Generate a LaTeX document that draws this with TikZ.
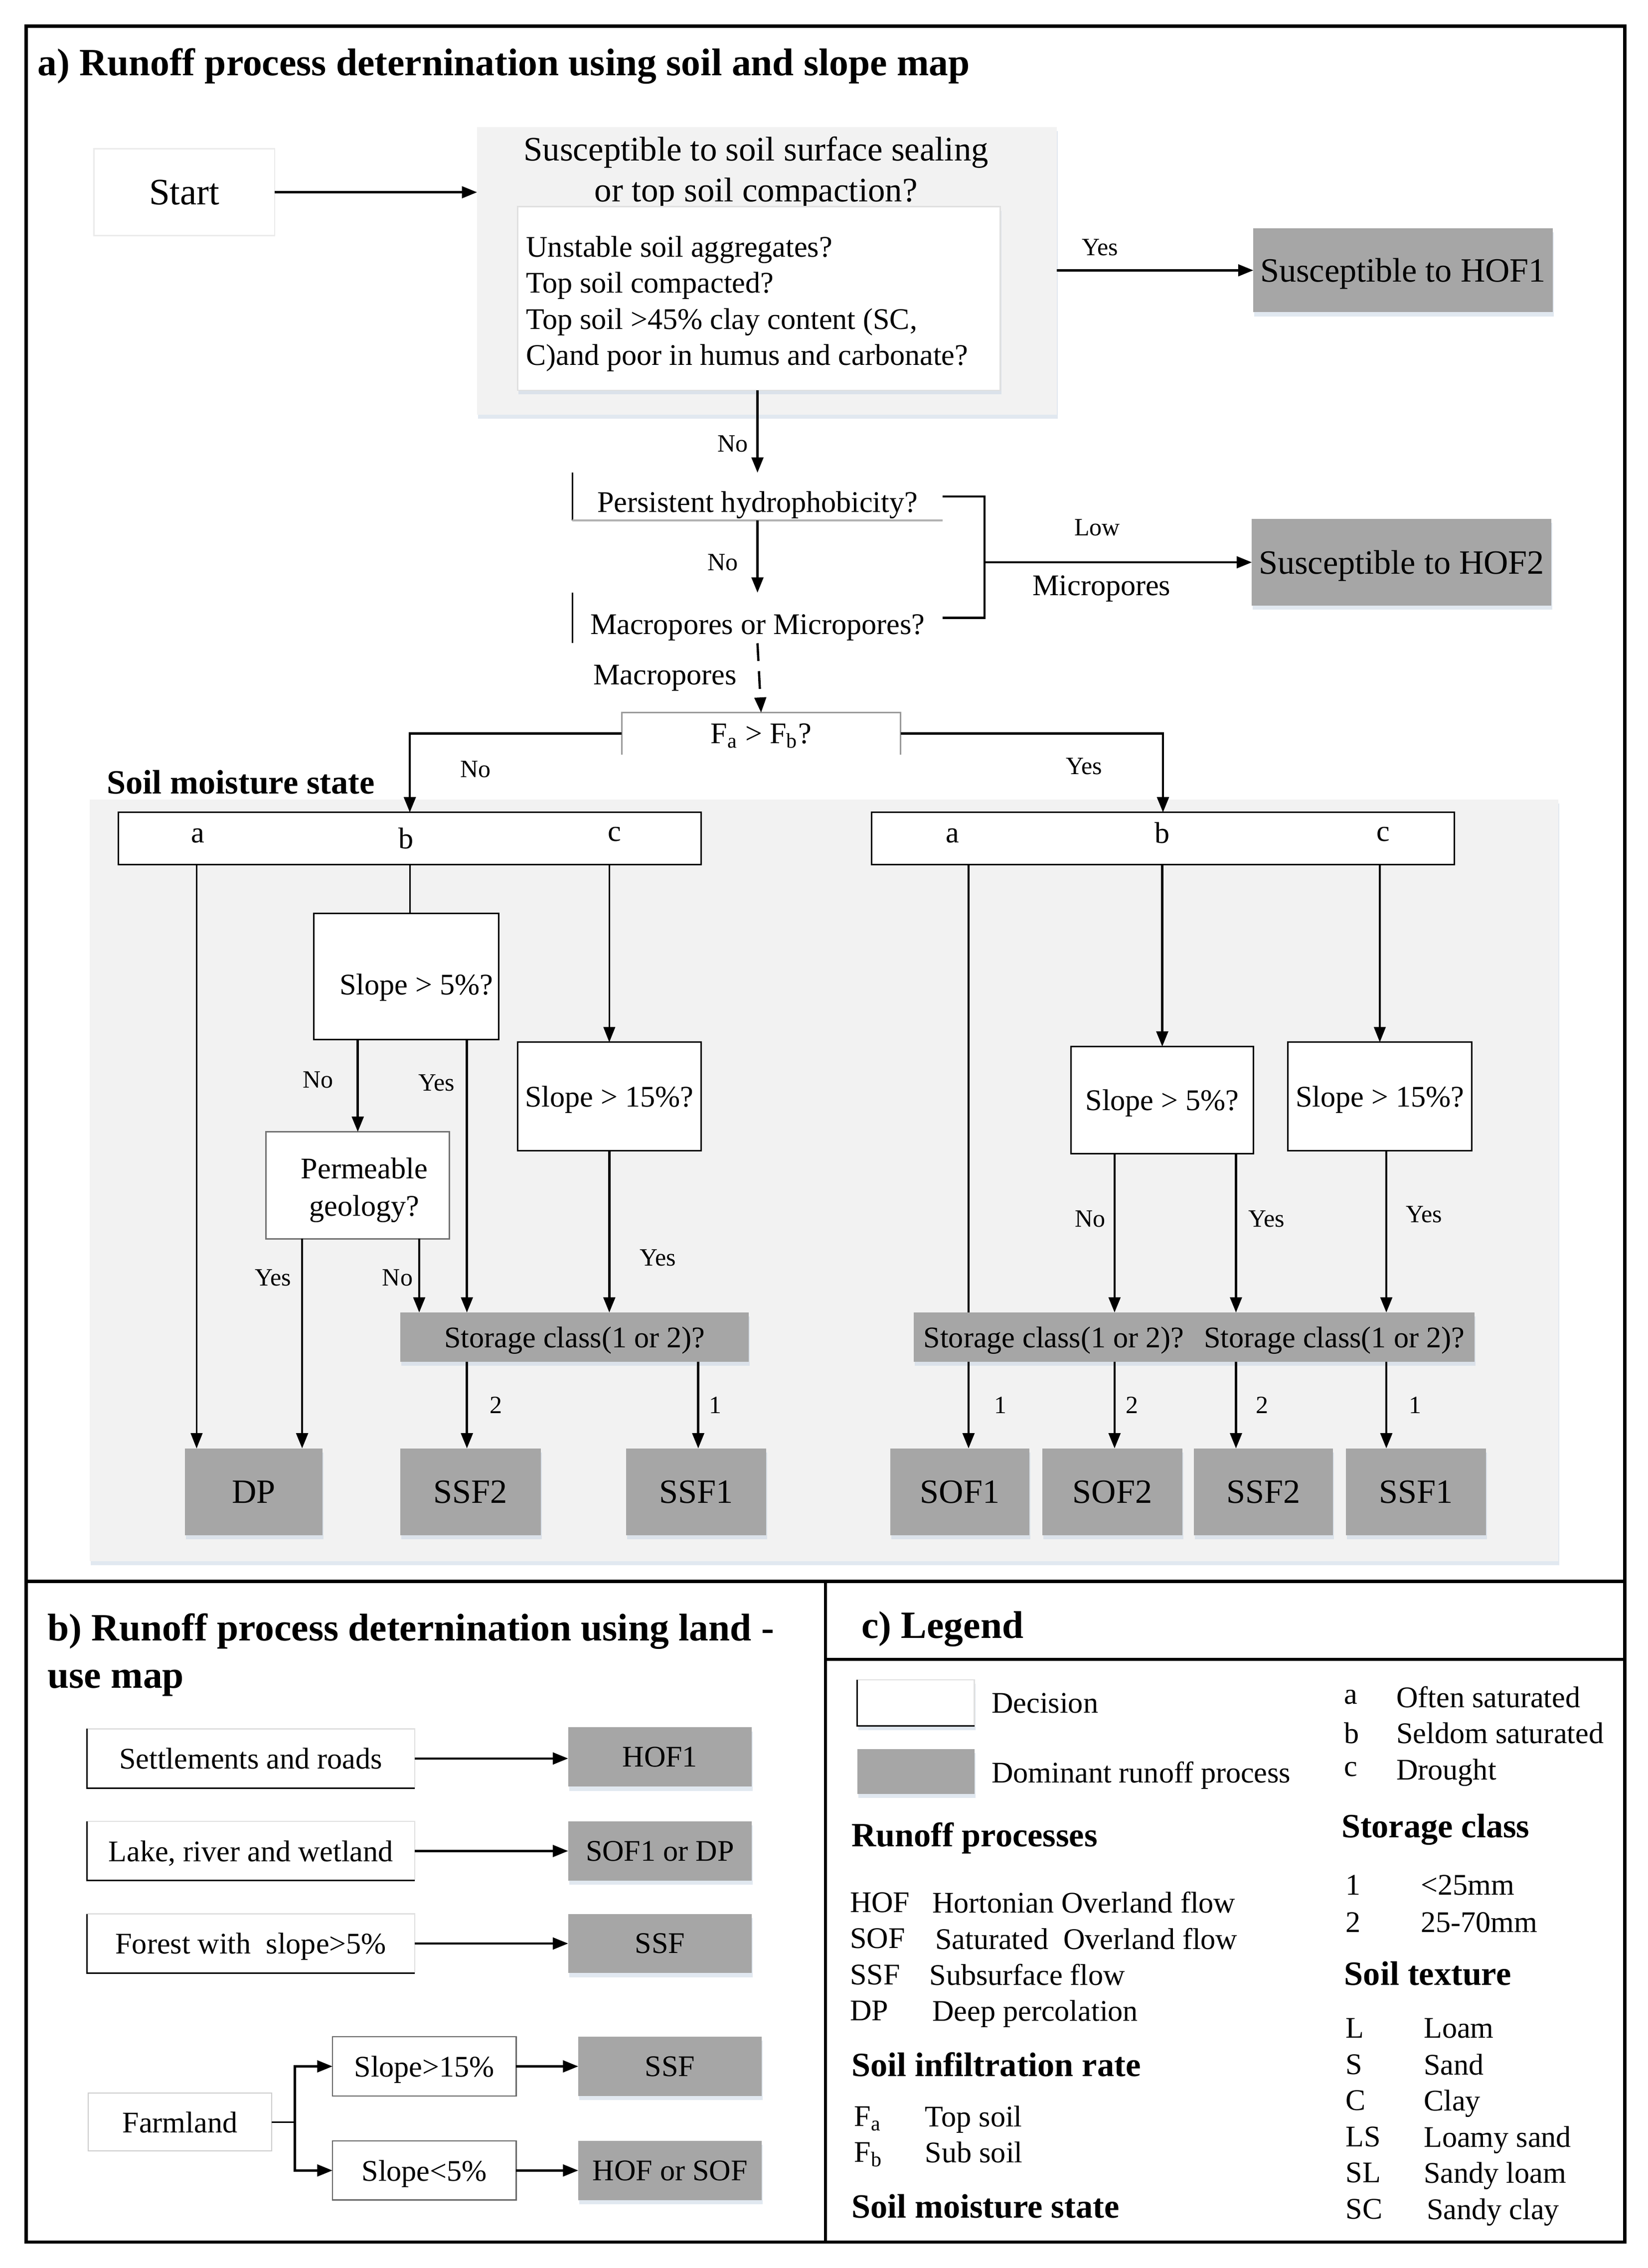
\documentclass[tikz,border=0pt]{standalone}
\usepackage{fontspec}
\setmainfont{Liberation Serif}
\usetikzlibrary{arrows.meta,shadows,calc}
\definecolor{procgray}{HTML}{A6A6A6}
\definecolor{bggray}{HTML}{F2F2F2}
\definecolor{shadowc}{HTML}{C5D3E3}
\newcommand{\fsz}[2]{\fontsize{#1}{#2}\selectfont}
\newcommand{\lbframe}[1]{\draw[line width=0.6pt] (#1.north west) -- (#1.south west) -- (#1.south east);}
\tikzset{
  txt/.style={font=\fsz{11.8}{14.2}, text depth=0pt},
  lbl/.style={font=\fsz{9.8}{11}, text depth=0pt},
  head/.style={font=\fsz{15.2}{18.7}\bfseries, text depth=0pt},
  sub/.style={font=\fsz{13.4}{16}\bfseries, text depth=0pt},
  big/.style={font=\fsz{13.4}{16}, text depth=0pt},
  shd/.style={drop shadow={shadow xshift=0.4pt, shadow yshift=-1.6pt, opacity=0.5, fill=shadowc}},
  gbox/.style={fill=procgray, shd},
  wbox/.style={fill=white, draw=black, line width=0.6pt},
  pbox/.style={fill=white, draw=black!12, line width=0.5pt},
  arr/.style={-{Triangle[length=6pt,width=4.6pt]}, line width=0.9pt},
  ln/.style={line width=0.9pt},
  thn/.style={line width=0.6pt},
  thnarr/.style={-{Triangle[length=6pt,width=4.6pt]}, line width=0.6pt},
  frame/.style={line width=1.3pt},
}
\begin{document}
\begin{tikzpicture}[x=0.02cm, y=-0.02cm, every node/.style={inner sep=0pt, outer sep=0pt}]
\fill[white] (0,0) rectangle (1140,1569);
\useasboundingbox (0,0) rectangle (1140,1569);

% ---------- frame ----------
\draw[frame] (18,18) rectangle (1124,1551);
\draw[frame] (18,1094) -- (1124,1094);
\draw[frame] (571,1094) -- (571,1551);
\draw[frame] (571,1148) -- (1124,1148);

% ---------- panel a ----------
\node[head, anchor=west] (titA) at (26,43) {a) Runoff process deternination using soil and slope map};

\node[pbox, draw=black!8, minimum width=2.5cm, minimum height=1.2cm, font=\fsz{14.7}{16}, text depth=0pt] (start) at (127.5,133) {Start};
\node[fill=bggray, shd, minimum width=8.02cm, minimum height=3.98cm] (susc) at (530.5,187.5) {};
\node[align=center, font=\fsz{13.5}{16.2}, text depth=0pt] (suscT) at (523,117) {Susceptible to soil surface sealing\\or top soil compaction?};
\node[pbox, shd, minimum width=6.68cm, minimum height=2.54cm] (inner) at (525,206.5) {};
\node[txt, anchor=west, align=left] (innerT) at (364,208) {Unstable soil aggregates?\\Top soil compacted?\\Top soil >45\% clay content (SC,\\C)and poor in humus and carbonate?};
\node[gbox, big, minimum width=4.14cm, minimum height=1.16cm] (hof1) at (970.5,187) {Susceptible to HOF1};

\node[fill=white, minimum width=5.12cm, minimum height=0.66cm] (pers) at (524,343.5) {};
\node[txt] (persT) at (524,347) {Persistent hydrophobicity?};
\draw[thn] (pers.north west) -- (pers.south west);
\draw[thn, black!30] (pers.south west) -- (pers.south east);
\node[fill=white, minimum width=5.12cm, minimum height=0.7cm] (macro) at (524,427.5) {};
\node[txt] (macroT) at (524,432) {Macropores or Micropores?};
\draw[thn] (macro.north west) -- (macro.south west);
\node[gbox, big, minimum width=4.14cm, minimum height=1.2cm] (hof2) at (969.5,389) {Susceptible to HOF2};
\node[fill=white, txt, minimum width=3.86cm, minimum height=0.58cm] (fafb) at (526.5,507.5) {F\textsubscript{a} > F\textsubscript{b}?};
\draw[thn, black!40] (fafb.south west) -- (fafb.north west) -- (fafb.north east) -- (fafb.south east);

\draw[arr] (start.east) -- (start.east -| susc.west);
\draw[arr] (susc.east |- hof1.west) -- (hof1.west) node[lbl] (lYes1) at (761,171) {Yes};
\draw[arr] (inner.south -| pers.north) -- (pers.north) node[lbl] (lNo1) at (507,307) {No};
\draw[arr] (pers.south) -- (macro.north) node[lbl] (lNo2) at (500,389) {No};
\coordinate (Xbr) at (681,0);
\draw[ln] (pers.east) -- (pers.east -| Xbr) -- (macro.east -| Xbr) -- (macro.east);
\draw[arr] (hof2.west -| Xbr) -- (hof2.west) node[lbl] (lLow) at (759,365) {Low} node[txt] (lMicro) at (762,405) {Micropores};
\draw[arr, dash pattern=on 7pt off 4pt] (macro.south) -- (fafb.north) node[txt] (lMacro) at (460,467) {Macropores};

% lower part of panel a
\node[fill=bggray, shd, minimum width=20.32cm, minimum height=10.54cm] (bg) at (570,816.5) {};
\node[sub, anchor=west] (tSMS) at (74,541) {Soil moisture state};

\node[wbox, minimum width=8.06cm, minimum height=0.72cm] (abcL) at (283.5,580) {};
\node[txt] (aL) at (137,578) {a};
\node[txt] (bL) at (281,580) {b};
\node[txt] (cL) at (425,577) {c};
\node[wbox, minimum width=8.06cm, minimum height=0.72cm] (abcR) at (804.5,580) {};
\node[txt] (aR) at (659,578) {a};
\node[txt] (bR) at (804,576) {b};
\node[txt] (cR) at (957,577) {c};

\draw[arr] (fafb.west) -| (abcL.north) node[lbl] (lNo3) at (329,532) {No};
\draw[arr] (fafb.east) -| (abcR.north) node[lbl] (lYes2) at (750,530) {Yes};

\node[wbox, minimum width=2.56cm, minimum height=1.74cm] (s5L) at (281,675.5) {};
\node[txt] (s5LT) at (288,681) {Slope > 5\%?};
\node[wbox, txt, minimum width=2.54cm, minimum height=1.5cm] (s15L) at (421.5,758.5) {Slope > 15\%?};
\node[wbox, draw=black!55, minimum width=2.54cm, minimum height=1.48cm] (perm) at (247.5,820) {};
\node[align=center, font=\fsz{11.8}{14.7}, text depth=0pt] (permT) at (252,821) {Permeable\\geology?};
\node[gbox, txt, minimum width=4.82cm, minimum height=0.68cm] (stL) at (397.5,925) {Storage class(1 or 2)?};
\node[gbox, big, minimum width=1.9cm, minimum height=1.2cm] (dp) at (175.5,1032) {DP};
\node[gbox, big, minimum width=1.94cm, minimum height=1.2cm] (ssf2L) at (325.5,1032) {SSF2};
\node[gbox, big, minimum width=1.94cm, minimum height=1.2cm] (ssf1L) at (481.5,1032) {SSF1};

\node[wbox, txt, minimum width=2.52cm, minimum height=1.48cm] (s5R) at (804,761) {Slope > 5\%?};
\node[wbox, txt, minimum width=2.54cm, minimum height=1.5cm] (s15R) at (954.5,758.5) {Slope > 15\%?};
\node[gbox, txt, minimum width=3.88cm, minimum height=0.68cm] (stR1) at (729,925) {Storage class(1 or 2)?};
\node[gbox, txt, minimum width=3.88cm, minimum height=0.68cm] (stR2) at (923,925) {Storage class(1 or 2)?};
\node[gbox, big, minimum width=1.92cm, minimum height=1.2cm] (sof1) at (664,1032) {SOF1};
\node[gbox, big, minimum width=1.94cm, minimum height=1.2cm] (sof2) at (769.5,1032) {SOF2};
\node[gbox, big, minimum width=1.92cm, minimum height=1.2cm] (ssf2R) at (874,1032) {SSF2};
\node[gbox, big, minimum width=1.94cm, minimum height=1.2cm] (ssf1R) at (979.5,1032) {SSF1};

\coordinate (X136) at (136,0);
\coordinate (X209) at (209,0);
\coordinate (X290) at (290,0);
\coordinate (X323) at (323,0);
\coordinate (X483) at (483,0);
\coordinate (X670) at (670,0);
\coordinate (X771) at (771,0);
\coordinate (X855) at (855,0);
\coordinate (X959) at (959,0);

\draw[thnarr] (abcL.south -| X136) -- (dp.north -| X136);
\draw[thn] (abcL.south) -- (abcL.south |- s5L.north);
\draw[thnarr] (abcL.south -| s15L.north) -- (s15L.north);
\draw[arr] (s5L.south -| perm.north) -- (perm.north) node[lbl] (lNo4) at (220,747) {No};
\draw[arr] (s5L.south -| X323) -- (stL.north -| X323) node[lbl] (lYes3) at (302,749) {Yes};
\draw[arr] (perm.south -| X209) -- (dp.north -| X209) node[lbl] (lYes4) at (189,884) {Yes};
\draw[arr] (perm.south -| X290) -- (stL.north -| X290) node[lbl] (lNo5) at (275,884) {No};
\draw[arr] (s15L.south) -- (s15L.south |- stL.north) node[lbl] (lYes5) at (455,870) {Yes};
\draw[arr] (stL.south -| X323) -- (ssf2L.north -| X323) node[lbl] (l2a) at (343,972) {2};
\draw[arr] (stL.south -| X483) -- (ssf1L.north -| X483) node[lbl] (l1a) at (495,972) {1};

\draw[thn] (abcR.south -| X670) -- (stR1.north -| X670);
\draw[arr] (stR1.south -| X670) -- (sof1.north -| X670) node[lbl] (l1b) at (692,972) {1};
\draw[arr] (abcR.south -| s5R.north) -- (s5R.north);
\draw[thnarr] (abcR.south -| s15R.north) -- (s15R.north);
\draw[arr] (s5R.south -| X771) -- (stR1.north -| X771) node[lbl] (lNo6) at (754,843) {No};
\draw[arr] (s5R.south -| X855) -- (stR2.north -| X855) node[lbl] (lYes6) at (876,843) {Yes};
\draw[arr] (s15R.south -| X959) -- (stR2.north -| X959) node[lbl] (lYes7) at (985,840) {Yes};
\draw[arr] (stR1.south -| X771) -- (sof2.north -| X771) node[lbl] (l2b) at (783,972) {2};
\draw[arr] (stR2.south -| X855) -- (ssf2R.north -| X855) node[lbl] (l2c) at (873,972) {2};
\draw[arr] (stR2.south -| X959) -- (ssf1R.north -| X959) node[lbl] (l1c) at (979,972) {1};

% ---------- panel b ----------
\node[head, anchor=west, align=left] (titB) at (33,1142) {b) Runoff process deternination using land -\\use map};

\node[pbox, txt, minimum width=4.54cm, minimum height=0.82cm] (sett) at (173.5,1216.5) {Settlements and roads};
\lbframe{sett}
\node[gbox, txt, minimum width=2.54cm, minimum height=0.82cm] (hofb) at (456.5,1215.5) {HOF1};
\node[pbox, txt, minimum width=4.54cm, minimum height=0.82cm] (lake) at (173.5,1280.5) {Lake, river and wetland};
\lbframe{lake}
\node[gbox, txt, minimum width=2.54cm, minimum height=0.82cm] (sofdp) at (456.5,1280.5) {SOF1 or DP};
\node[pbox, txt, minimum width=4.54cm, minimum height=0.82cm] (forest) at (173.5,1344.5) {Forest with~~slope>5\%};
\lbframe{forest}
\node[gbox, txt, minimum width=2.54cm, minimum height=0.82cm] (ssfb1) at (456.5,1344.5) {SSF};

\node[pbox, draw=black!20, txt, minimum width=2.54cm, minimum height=0.8cm] (farm) at (124.5,1468) {Farmland};
\node[pbox, draw=black!60, txt, minimum width=2.54cm, minimum height=0.82cm] (sl15) at (293.5,1429.5) {Slope>15\%};
\node[gbox, txt, minimum width=2.54cm, minimum height=0.82cm] (ssfb2) at (463.5,1429.5) {SSF};
\node[pbox, draw=black!60, txt, minimum width=2.54cm, minimum height=0.82cm] (sl5) at (293.5,1501.5) {Slope<5\%};
\node[gbox, txt, minimum width=2.54cm, minimum height=0.82cm] (hofsof) at (463.5,1501.5) {HOF or SOF};

\draw[arr] (sett.east) -- (sett.east -| hofb.west);
\draw[arr] (lake.east) -- (lake.east -| sofdp.west);
\draw[arr] (forest.east) -- (forest.east -| ssfb1.west);
\coordinate (Xfj) at (204,0);
\draw[thn] (farm.east) -- (farm.east -| Xfj);
\draw[arr] (farm.east -| Xfj) |- (sl15.west);
\draw[arr] (farm.east -| Xfj) |- (sl5.west);
\draw[arr] (sl15.east) -- (sl15.east -| ssfb2.west);
\draw[arr] (sl5.east) -- (sl5.east -| hofsof.west);

% ---------- panel c ----------
\node[head, anchor=west] (titC) at (596,1124) {c) Legend};
\node[pbox, shd, minimum width=1.62cm, minimum height=0.64cm] (legDec) at (633.5,1178) {};
\lbframe{legDec}
\node[gbox, minimum width=1.62cm, minimum height=0.62cm] (legDom) at (633.5,1225.5) {};
\node[txt, anchor=west] (tDec) at (686,1178) {Decision};
\node[txt, anchor=west] (tDom) at (686,1226) {Dominant runoff process};

\node[txt, anchor=west] (ka) at (930,1174) {a};
\node[txt, anchor=west] (va) at (966,1174) {Often saturated};
\node[txt, anchor=west] (kb) at (930,1199) {b};
\node[txt, anchor=west] (vb) at (966,1199) {Seldom saturated};
\node[txt, anchor=west] (kc) at (930,1224) {c};
\node[txt, anchor=west] (vc) at (966,1224) {Drought};

\node[sub, anchor=west] (tRP) at (589,1269) {Runoff processes};
\node[txt, anchor=west] (kHOF) at (588,1316) {HOF};
\node[txt, anchor=west] (vHOF) at (645,1316) {Hortonian Overland flow};
\node[txt, anchor=west] (kSOF) at (588,1341) {SOF};
\node[txt, anchor=west] (vSOF) at (647,1341) {Saturated~~Overland flow};
\node[txt, anchor=west] (kSSF) at (588,1366) {SSF};
\node[txt, anchor=west] (vSSF) at (643,1366) {Subsurface flow};
\node[txt, anchor=west] (kDP) at (588,1391) {DP};
\node[txt, anchor=west] (vDP) at (645,1391) {Deep percolation};

\node[sub, anchor=west] (tSIR) at (589,1428) {Soil infiltration rate};
\node[txt, anchor=west] (kFa) at (591,1464) {F\textsubscript{a}};
\node[txt, anchor=west] (vFa) at (640,1464) {Top soil};
\node[txt, anchor=west] (kFb) at (591,1489) {F\textsubscript{b}};
\node[txt, anchor=west] (vFb) at (640,1489) {Sub soil};
\node[sub, anchor=west] (tSMS2) at (589,1526) {Soil moisture state};

\node[sub, anchor=west] (tSC) at (928,1263) {Storage class};
\node[txt, anchor=west] (k1) at (931,1304) {1};
\node[txt, anchor=west] (v1) at (983,1304) {<25mm};
\node[txt, anchor=west] (k2) at (931,1330) {2};
\node[txt, anchor=west] (v2) at (983,1330) {25-70mm};

\node[sub, anchor=west] (tST) at (930,1365) {Soil texture};
\node[txt, anchor=west] (kL) at (931,1403) {L};
\node[txt, anchor=west] (vL) at (985,1403) {Loam};
\node[txt, anchor=west] (kS) at (931,1428) {S};
\node[txt, anchor=west] (vS) at (985,1428) {Sand};
\node[txt, anchor=west] (kC) at (931,1453) {C};
\node[txt, anchor=west] (vC) at (985,1453) {Clay};
\node[txt, anchor=west] (kLS) at (931,1478) {LS};
\node[txt, anchor=west] (vLS) at (985,1478) {Loamy sand};
\node[txt, anchor=west] (kSL) at (931,1503) {SL};
\node[txt, anchor=west] (vSL) at (985,1503) {Sandy loam};
\node[txt, anchor=west] (kSC) at (931,1528) {SC};
\node[txt, anchor=west] (vSC) at (987,1528) {Sandy clay};
\end{tikzpicture}
\end{document}
